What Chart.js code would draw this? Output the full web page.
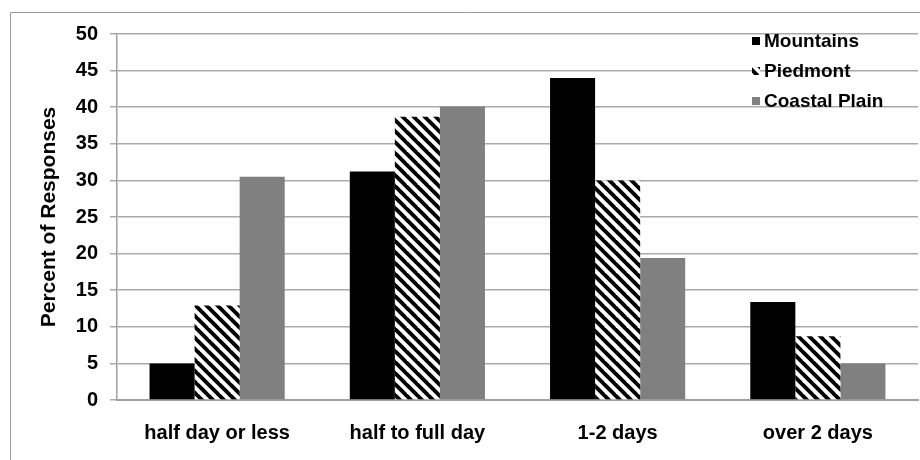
<!DOCTYPE html>
<html>
<head>
<meta charset="utf-8">
<script src="https://cdn.jsdelivr.net/npm/chart.js@4.4.1/dist/chart.umd.min.js"></script>
<style>
  body { margin: 0; background: #fff; }
</style>
</head>
<body>
<canvas id="chart" width="920" height="460"></canvas>
<script>
const categories = ['half day or less', 'half to full day', '1-2 days', 'over 2 days'];
const mountains = [5, 31.2, 44, 13.4];
const piedmont = [12.9, 38.7, 30, 8.7];
const coastalPlain = [30.5, 40.1, 19.4, 5];
const yTicks = [0, 5, 10, 15, 20, 25, 30, 35, 40, 45, 50];

const FONT = 'Liberation Sans, Arial, sans-serif';

// diagonal stripe fill for Piedmont
function stripePattern() {
    const size = 11;
    const c = document.createElement('canvas');
    c.width = size;
    c.height = size;
    const g = c.getContext('2d');
    g.fillStyle = '#fff';
    g.fillRect(0, 0, size, size);
    g.strokeStyle = '#000';
    g.lineWidth = 3.9;
    for (let k = -1; k <= 1; k++) {
        g.beginPath();
        g.moveTo(k * size - 2, -2);
        g.lineTo(k * size + size + 2, size + 2);
        g.stroke();
    }
    return g.createPattern(c, 'repeat');
}

const ctx = document.getElementById('chart').getContext('2d');
const stripes = stripePattern();

// outer frame of the original picture
const framePlugin = {
    id: 'frame',
    beforeDraw(chart) {
        const c = chart.ctx;
        c.save();
        c.fillStyle = '#fff';
        c.fillRect(0, 0, chart.width, chart.height);
        c.strokeStyle = '#999';
        c.lineWidth = 1;
        c.beginPath();
        c.moveTo(10.5, chart.height);
        c.lineTo(10.5, 12.5);
        c.lineTo(chart.width, 12.5);
        c.stroke();
        c.restore();
    }
};

// legend drawn inside the plot, top right
const insideLegend = {
    id: 'insideLegend',
    afterDatasetsDraw(chart) {
        const c = chart.ctx;
        const area = chart.chartArea;
        const x0 = area.right - 166;
        c.save();
        chart.data.datasets.forEach((ds, i) => {
            const y = area.top + 7 + i * 30;
            c.fillStyle = ds.backgroundColor;
            c.fillRect(x0, y - 4, 8, 8);
            c.fillStyle = '#000';
            c.font = 'bold 19px ' + FONT;
            c.textBaseline = 'middle';
            c.textAlign = 'left';
            c.fillText(ds.label, x0 + 12, y + 1);
        });
        c.restore();
    }
};

new Chart(ctx, {
    type: 'bar',
    data: {
        labels: categories,
        datasets: [
            { label: 'Mountains', data: mountains, backgroundColor: '#000000' },
            { label: 'Piedmont', data: piedmont, backgroundColor: stripes },
            { label: 'Coastal Plain', data: coastalPlain, backgroundColor: '#808080' }
        ]
    },
    options: {
        responsive: false,
        animation: false,
        categoryPercentage: 0.675,
        barPercentage: 1,
        layout: { padding: { top: 34, right: 2, left: 0, bottom: 0 } },
        plugins: {
            legend: { display: false },
            tooltip: { enabled: false }
        },
        scales: {
            x: {
                grid: { display: false, drawTicks: false },
                border: { display: true, color: '#a0a0a0', width: 2 },
                ticks: {
                    color: '#000',
                    padding: 21,
                    font: { family: FONT, size: 20, weight: 'bold' }
                },
                afterFit(scale) { scale.height = 60; }
            },
            y: {
                min: 0,
                max: 50,
                afterBuildTicks(scale) {
                    scale.ticks = yTicks.map(v => ({ value: v }));
                },
                grid: { color: '#aaaaaa', lineWidth: 1.5, tickLength: 7 },
                border: { display: true, color: '#a0a0a0', width: 1.5 },
                ticks: {
                    color: '#000',
                    padding: 12,
                    font: { family: FONT, size: 20, weight: 'bold' }
                },
                title: {
                    display: true,
                    text: 'Percent of Responses',
                    color: '#000',
                    padding: { top: 37, bottom: 0 },
                    font: { family: FONT, size: 21, weight: 'bold' }
                },
                afterFit(scale) { scale.width = 117; }
            }
        }
    },
    plugins: [framePlugin, insideLegend]
});
</script>
</body>
</html>
